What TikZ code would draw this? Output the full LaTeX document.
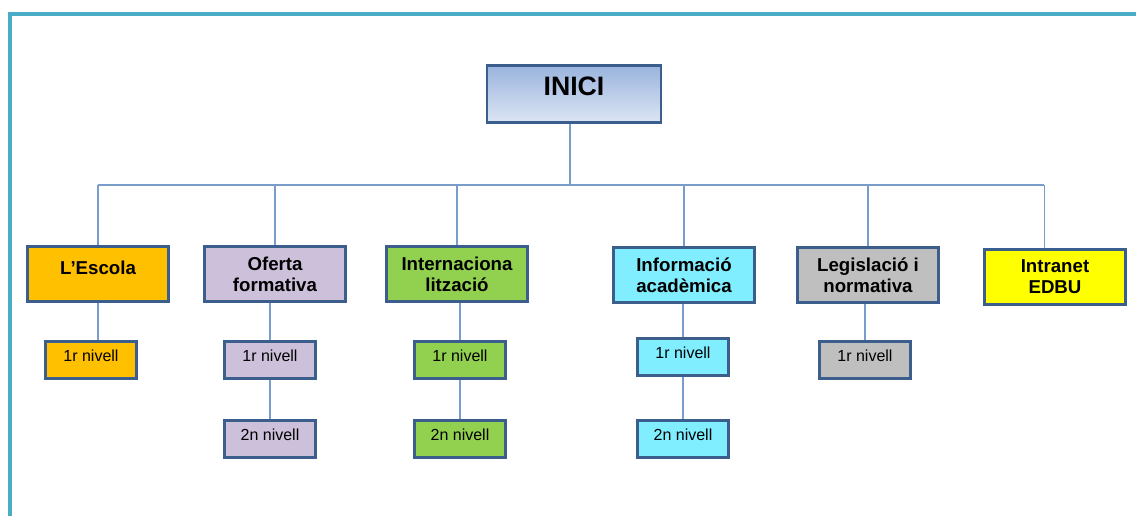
\documentclass[tikz,border=0pt]{standalone}
\usepackage{fontspec}
\setmainfont{Liberation Sans}
\definecolor{framecol}{HTML}{4BACC6}
\definecolor{boxline}{HTML}{3B5E8C}
\definecolor{linkblue}{HTML}{7A9CCB}
\definecolor{escolacol}{HTML}{FFC000}
\definecolor{ofertacol}{HTML}{CCC0DA}
\definecolor{interncol}{HTML}{92D050}
\definecolor{infocol}{HTML}{80EEFF}
\definecolor{legiscol}{HTML}{BFBFBF}
\definecolor{intracol}{HTML}{FFFF00}
\definecolor{inicitop}{HTML}{9AB4DE}
\definecolor{inicibot}{HTML}{DCE5F3}

\begin{document}
\begin{tikzpicture}[x=0.75pt,y=-0.75pt,
    box/.style={draw=boxline, line width=2.2pt, align=center, inner sep=2pt,
        font=\bfseries\fontsize{14}{15.75}\selectfont,
        minimum width=106pt, minimum height=41.3pt},
    sub/.style={draw=boxline, line width=2.2pt, inner sep=2pt, text depth=6pt,
        font=\fontsize{12}{14}\selectfont,
        minimum width=68.3pt, minimum height=27.8pt},
    link/.style={draw=linkblue, line width=1.1pt}]
        \useasboundingbox (0,0) rectangle (1136,516);
        \draw [framecol, line width=3pt] (10,516) -- (10,14) -- (1136,14);

        \node [box, top color=inicitop, bottom color=inicibot,
            draw=boxline, font=\bfseries\fontsize{20}{24}\selectfont,
            minimum width=130.5pt, minimum height=42.8pt, text depth=12pt] (inici) at (574,94) {INICI};

        \node [box, fill=escolacol, text depth=9pt] (escola) at (98,274) {L'Escola};
        \node [box, fill=ofertacol] (oferta) at (275,274) {Oferta\\formativa};
        \node [box, fill=interncol] (intern) at (457,274) {Internaciona\\lització};
        \node [box, fill=infocol] (info) at (684,275) {Informació\\acadèmica};
        \node [box, fill=legiscol] (legis) at (868,275) {Legislació i\\normativa};
        \node [box, fill=intracol] (intra) at (1055,277) {Intranet\\EDBU};

        \node [sub, fill=escolacol] (escolaA) at (91,360) {1r nivell};
        \node [sub, fill=ofertacol] (ofertaA) at (270,360) {1r nivell};
        \node [sub, fill=ofertacol] (ofertaB) at (270,439) {2n nivell};
        \node [sub, fill=interncol] (internA) at (460,360) {1r nivell};
        \node [sub, fill=interncol] (internB) at (460,439) {2n nivell};
        \node [sub, fill=infocol] (infoA) at (683,357) {1r nivell};
        \node [sub, fill=infocol] (infoB) at (683,439) {2n nivell};
        \node [sub, fill=legiscol] (legisA) at (865,360) {1r nivell};

        \coordinate (bus) at (570,185);
        \coordinate (intratop) at ([xshift=-8pt]intra.north);
        \draw [link] ([xshift=-3pt]inici.south) -- ([xshift=-3pt]inici.south |- bus);
        \draw [link] (bus -| escola.north) -- (bus -| intratop);
        \foreach \n in {escola,oferta,intern,info,legis}
            \draw [link] (bus -| \n.north) -- (\n.north);
        \draw [link] (bus -| intratop) -- (intratop);

        \draw [link] (escola.south) -- (escola.south |- escolaA.north);
        \draw [link] (oferta.south -| ofertaA) -- (ofertaA.north);
        \draw [link] (ofertaA.south) -- (ofertaB.north);
        \draw [link] (intern.south -| internA) -- (internA.north);
        \draw [link] (internA.south) -- (internB.north);
        \draw [link] (info.south -| infoA) -- (infoA.north);
        \draw [link] (infoA.south) -- (infoB.north);
        \draw [link] (legis.south -| legisA) -- (legisA.north);
\end{tikzpicture}
\end{document}
